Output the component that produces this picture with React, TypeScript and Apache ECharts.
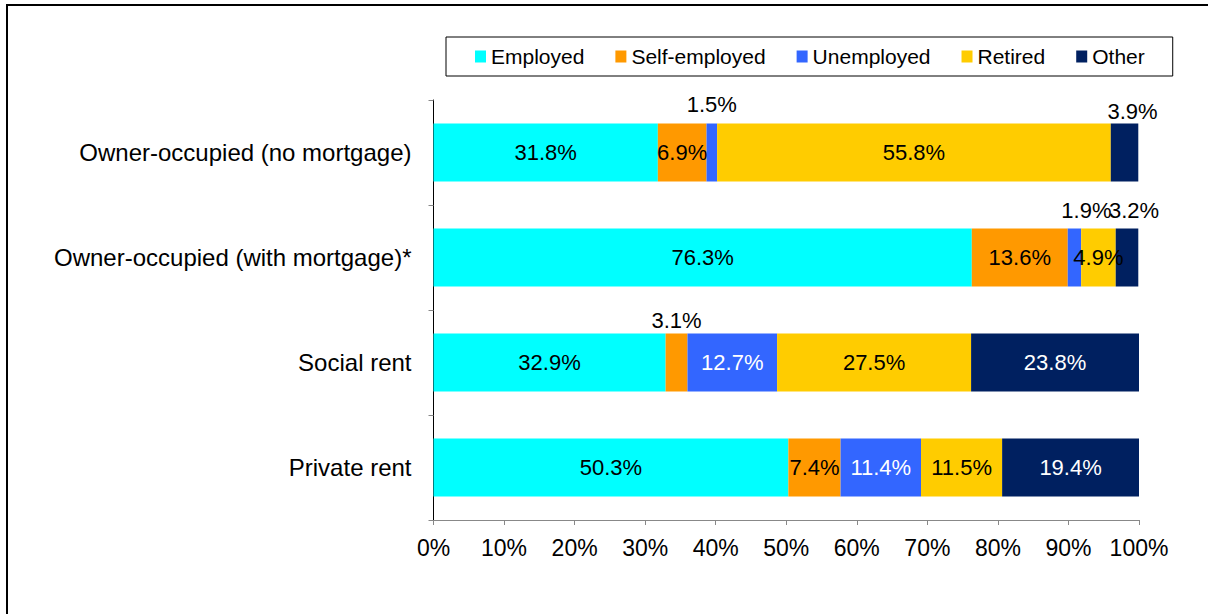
import React, { useEffect, useRef } from "react";
import * as echarts from "echarts";

const categories = [
  "Owner-occupied (no mortgage)",
  "Owner-occupied (with mortgage)*",
  "Social rent",
  "Private rent",
];
const seriesNames = ["Employed", "Self-employed", "Unemployed", "Retired", "Other"];
const employed = [31.8, 76.3, 32.9, 50.3];
const selfEmployed = [6.9, 13.6, 3.1, 7.4];
const unemployed = [1.5, 1.9, 12.7, 11.4];
const retired = [55.8, 4.9, 27.5, 11.5];
const other = [3.9, 3.2, 23.8, 19.4];

const seriesValues = [employed, selfEmployed, unemployed, retired, other];
const seriesColors = ["#00FFFF", "#FF9900", "#3366FF", "#FFCC00", "#002060"];
const insideTextColors = ["#000", "#000", "#fff", "#000", "#fff"];

// labels that sit above the bar: key = seriesIndex-dataIndex
const outsideLabels: Record<string, { distance: number; dx: number }> = {
  "2-0": { distance: 8, dx: 0 },
  "4-0": { distance: 1, dx: 8 },
  "2-1": { distance: 7, dx: 12 },
  "4-1": { distance: 7, dx: 7 },
  "1-2": { distance: 2, dx: 0 },
};

const FONT = "'Liberation Sans', Arial, sans-serif";

export default function App() {
  const ref = useRef<HTMLDivElement>(null);
  useEffect(() => {
    if (!ref.current) return;
    const chart = echarts.init(ref.current, undefined, { renderer: "svg" });
    const series = seriesValues.map((vals, si) => ({
      name: seriesNames[si],
      type: "bar",
      stack: "total",
      barWidth: 58,
      itemStyle: { color: seriesColors[si] },
      label: {
        show: true,
        position: "inside",
        color: insideTextColors[si],
        fontSize: 22,
        fontFamily: FONT,
        formatter: (p: any) => p.value.toFixed(1) + "%",
      },
      data: vals.map((v, di) => {
        const o = outsideLabels[`${si}-${di}`];
        if (!o) return v;
        return {
          value: v,
          label: {
            position: "top",
            distance: o.distance,
            offset: [o.dx, 0],
            color: "#000",
          },
        };
      }),
    }));
    chart.setOption({
      animation: false,
      textStyle: { fontFamily: FONT },
      legend: {
        data: seriesNames,
        left: 446,
        top: 37,
        padding: [9, 28, 9, 29],
        itemGap: 31,
        itemWidth: 11,
        itemHeight: 12,
        icon: "rect",
        borderColor: "#000",
        borderWidth: 1,
        borderRadius: 0,
        textStyle: { fontSize: 21, color: "#000", fontFamily: FONT },
      },
      grid: { left: 433.5, right: 69, top: 100, bottom: 94, containLabel: false },
      xAxis: {
        type: "value",
        min: 0,
        max: 100,
        interval: 10,
        axisLine: { show: true, lineStyle: { color: "#888" } },
        axisTick: { show: true, length: 5, lineStyle: { color: "#888" } },
        splitLine: { show: false },
        axisLabel: {
          formatter: "{value}%",
          fontSize: 23,
          color: "#000",
          margin: 16,
          fontFamily: FONT,
        },
      },
      yAxis: {
        type: "category",
        inverse: true,
        data: categories,
        axisLine: { show: true, lineStyle: { color: "#000" } },
        axisTick: { show: true, length: 5, lineStyle: { color: "#888" } },
        axisLabel: { fontSize: 24, color: "#000", margin: 22, fontFamily: FONT },
      },
      graphic: [
        { type: "rect", shape: { x: 6, y: 4, width: 1202, height: 2 }, style: { fill: "#000" } },
        { type: "rect", shape: { x: 6, y: 4, width: 2, height: 610 }, style: { fill: "#000" } },
      ],
      series,
    });
    return () => chart.dispose();
  }, []);
  return (
    <div
      ref={ref}
      style={{ position: "fixed", left: 0, top: 0, width: 1208, height: 614, background: "#fff" }}
    />
  );
}
